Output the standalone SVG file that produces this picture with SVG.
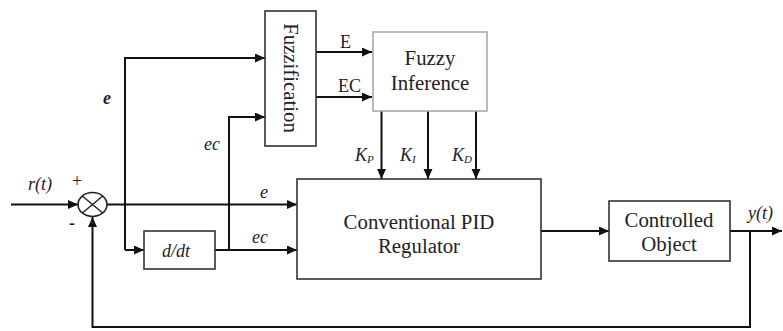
<svg xmlns="http://www.w3.org/2000/svg" width="783" height="331" viewBox="0 0 783 331">
<style>
.box{fill:#fff;stroke:#333;stroke-width:1.6}
.gbox{fill:#fff;stroke:#aaa;stroke-width:1.6}
.ln{fill:none;stroke:#111;stroke-width:2}
text{font-family:"Liberation Serif","Times New Roman",Tinos,"DejaVu Serif",serif;fill:#222}
.t{font-size:20.8px;text-anchor:middle}
.i{font-style:italic;font-size:18px}
.s{font-size:18px}
</style>
<defs>
<marker id="ah" markerUnits="userSpaceOnUse" markerWidth="11" markerHeight="10" refX="10" refY="4.5" orient="auto">
<path d="M0,0 L10,4.5 L0,9 z" fill="#111"/>
</marker>
</defs>
<g id="connectors">
<path class="ln" d="M11,204.5 H78" marker-end="url(#ah)"/>
<path class="ln" d="M107,204.5 H297" marker-end="url(#ah)"/>
<path class="ln" d="M125,250 V58 H265" marker-end="url(#ah)"/>
<path class="ln" d="M125,250 H144" marker-end="url(#ah)"/>
<path class="ln" d="M215,250 H297" marker-end="url(#ah)"/>
<path class="ln" d="M229,250 V117 H265" marker-end="url(#ah)"/>
<path class="ln" d="M316,52 H372" marker-end="url(#ah)"/>
<path class="ln" d="M316,97 H372" marker-end="url(#ah)"/>
<path class="ln" d="M381.5,111 V179" marker-end="url(#ah)"/>
<path class="ln" d="M428,111 V179" marker-end="url(#ah)"/>
<path class="ln" d="M476,111 V179" marker-end="url(#ah)"/>
<path class="ln" d="M541,231 H609" marker-end="url(#ah)"/>
<path class="ln" d="M730,231 H782" marker-end="url(#ah)"/>
<path class="ln" d="M750,231 V327 H92.5 V217" marker-end="url(#ah)"/>
</g>
<g id="sum">
<ellipse cx="92.5" cy="204.5" rx="14.5" ry="12" fill="#fff" stroke="#222" stroke-width="1.6"/>
<path d="M82.3,196 L102.7,213 M82.3,213 L102.7,196" stroke="#222" stroke-width="1.4"/>
</g>
<g id="fuzzification">
<rect class="box" x="265" y="11" width="51" height="135"/>
<text class="t" transform="translate(284,78) rotate(90)">Fuzzification</text>
</g>
<g id="fuzzy-inference">
<rect class="gbox" x="373" y="32" width="114" height="79"/>
<text class="t" x="430" y="65">Fuzzy</text>
<text class="t" x="430" y="90">Inference</text>
</g>
<g id="ddt">
<rect class="box" x="144" y="231" width="71" height="38"/>
<text class="i" x="176" y="257" text-anchor="middle" font-size="19">d/dt</text>
</g>
<g id="pid">
<rect class="box" x="297" y="179" width="244" height="100"/>
<text class="t" x="419" y="229">Conventional PID</text>
<text class="t" x="419" y="253">Regulator</text>
</g>
<g id="plant">
<rect class="box" x="609" y="201" width="121" height="60"/>
<text class="t" x="669" y="227">Controlled</text>
<text class="t" x="669" y="251">Object</text>
</g>
<g id="labels">
<text class="i" x="28" y="190">r(t)</text>
<text class="s" x="72" y="187">+</text>
<text class="s" x="69" y="229" font-weight="bold">-</text>
<text class="i" x="103" y="104" font-size="16" font-weight="bold">e</text>
<text class="i" x="204" y="150">ec</text>
<text class="i" x="260" y="198">e</text>
<text class="i" x="252" y="243">ec</text>
<text class="s" x="340" y="48">E</text>
<text class="s" x="338" y="92">EC</text>
<text class="i" x="355" y="161">K<tspan font-size="11" dy="2">P</tspan></text>
<text class="i" x="400" y="161">K<tspan font-size="11" dy="2">I</tspan></text>
<text class="i" x="452" y="161">K<tspan font-size="11" dy="2">D</tspan></text>
<text class="i" x="748" y="219">y(t)</text>
</g>
</svg>
